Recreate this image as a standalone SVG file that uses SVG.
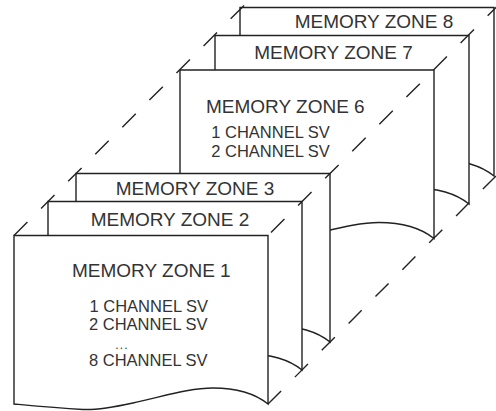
<svg xmlns="http://www.w3.org/2000/svg" xmlns:xlink="http://www.w3.org/1999/xlink" width="496" height="411" viewBox="0 0 496 411">
<style>
.page{fill:#fff;stroke:#222;stroke-width:1.4;stroke-linejoin:miter}
.dash{fill:none;stroke:#222;stroke-width:1.4;stroke-dasharray:19 19.3}
text{font-family:"Liberation Sans",Arial,sans-serif;fill:#333;text-anchor:middle}
.t{font-size:19px}
.c{font-size:16.5px}
.d{font-size:12px;letter-spacing:1.2px}
</style>
<defs>
<path id="page" d="M14,235.5 H268 V404 C258,396 240,388 213,388 C190,388 165,396 133,403 C110,408 95,410 83,409.5 C55,408 35,406 14,404 Z"/>
</defs>
<rect width="496" height="411" fill="#fff"/>
<g id="zone8">
<use xlink:href="#page" class="page" transform="translate(226,-228)"/>
<text class="t" x="374" y="28.3">MEMORY ZONE 8</text>
</g>
<g id="zone7">
<use xlink:href="#page" class="page" transform="translate(201,-200)"/>
<text class="t" x="333.5" y="58.5">MEMORY ZONE 7</text>
</g>
<g id="zone6">
<use xlink:href="#page" class="page" transform="translate(166,-165.5)"/>
<text class="t" x="285.3" y="113.3">MEMORY ZONE 6</text>
<text class="c" x="270.5" y="138.3">1 CHANNEL SV</text>
<text class="c" x="270.5" y="156.7">2 CHANNEL SV</text>
</g>
<g id="zone3">
<use xlink:href="#page" class="page" transform="translate(62,-62)"/>
<text class="t" x="195" y="195">MEMORY ZONE 3</text>
</g>
<g id="zone2">
<use xlink:href="#page" class="page" transform="translate(34,-34)"/>
<text class="t" x="170" y="226">MEMORY ZONE 2</text>
</g>
<g id="zone1">
<use xlink:href="#page" class="page"/>
<text class="t" x="151.3" y="277">MEMORY ZONE 1</text>
<text class="c" x="148.8" y="311.7">1 CHANNEL SV</text>
<text class="c" x="148.3" y="330">2 CHANNEL SV</text>
<text class="d" x="122" y="348.5">...</text>
<text class="c" x="148.3" y="366">8 CHANNEL SV</text>
</g>
<g id="connectors">
<path class="dash" d="M14,235.5 L247,2.5"/>
<path class="dash" d="M271,232.5 L500,3.5"/>
<path class="dash" style="stroke-dasharray:18.5 19.5" d="M268,404 L497,175"/>
</g>
</svg>
